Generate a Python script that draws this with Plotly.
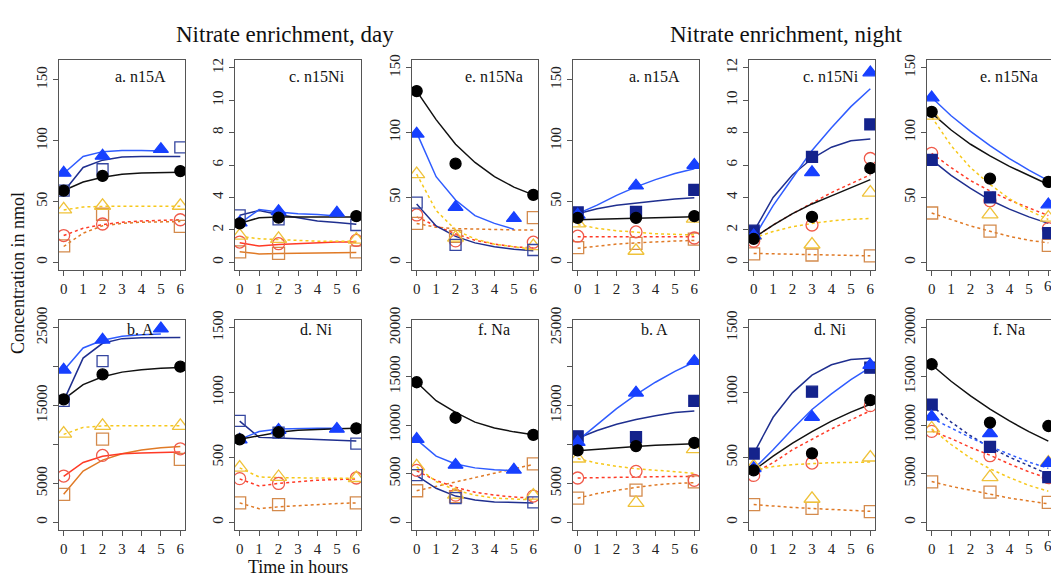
import plotly.graph_objects as go

# ---------------- data ----------------
T_MODEL = [0, 1, 2, 3, 4, 5, 6]
T_DAY_OBS = [0, 2, 6]
T_DAY_TRI = [0, 2, 5]
T_NIGHT_OBS = [0, 3, 6]
X_TICKS = [0, 1, 2, 3, 4, 5, 6]

SERIES = ["orange", "red", "yellow", "navy", "blue", "black"]

# Day, a. n15A
day_n15A_obs = {"black": [59, 71, 75], "blue": [73.5, 87.5, 93], "navy": [59, 76.5, 94.5],
                "yellow": [43.5, 46.5, 46.5], "red": [22, 31.5, 35], "orange": [13.5, 39.5, 29.5]}
day_n15A_mod = {"black": [59, 66, 70, 72.5, 73.5, 74, 74], "blue": [73, 87, 91, 92, 92, 91.5, None],
                "navy": [58, 78, 84, 86.5, 87, 87, 87], "yellow": [43, 45.5, 46, 46, 46, 46, 46],
                "red": [22, 28, 31, 33, 34, 34.5, 35], "orange": [13, 24, 30, 32, 33, 33.5, 33.5]}
# Day, c. n15Ni
day_n15Ni_obs = {"black": [2.4, 2.75, 2.85], "blue": [2.45, 3.15, 3.05], "navy": [2.9, 2.65, 2.3],
                 "yellow": [1.65, 1.45, 1.4], "red": [1.25, 1.15, 1.35], "orange": [0.65, 0.55, 0.65]}
day_n15Ni_mod = {"black": [2.4, 2.75, 2.8, 2.8, 2.8, 2.8, 2.8], "blue": [2.4, 3.25, 3.1, 3.0, 2.95, 2.85, None],
                 "navy": [2.9, 3.2, 2.95, 2.75, 2.55, 2.45, 2.35], "yellow": [1.6, 1.45, 1.4, 1.35, 1.3, 1.3, 1.3],
                 "red": [1.2, 1.0, 1.1, 1.15, 1.2, 1.25, 1.25], "orange": [0.65, 0.52, 0.55, 0.57, 0.58, 0.6, 0.6]}
# Day, e. n15Na
day_n15Na_obs = {"black": [132, 76, 52], "blue": [99, 42.5, 34], "navy": [46, 13.5, 9.5],
                 "yellow": [68, 19, 12.5], "red": [36.5, 16.5, 15.5], "orange": [30, 20, 34.5]}
day_n15Na_mod = {"black": [132, 110, 91, 77, 66, 58, 52], "blue": [100, 66, 48, 36, 30, 25.5, None],
                 "navy": [45, 28, 20, 15, 12, 10, 9], "yellow": [68, 40, 25, 18, 14, 12, 10],
                 "red": [35, 28, 22, 17, 14, 12, 11], "orange": [30, 27, 26, 25.5, 25, 25, 25]}
# Day, b. A
day_A_obs = {"black": [15800, 19000, 20000], "blue": [19600, 23450, 24900], "navy": [15600, 20700, None],
             "yellow": [11400, 12400, 12400], "red": [5950, 8600, 9450], "orange": [3600, 10700, 8100]}
day_A_mod = {"black": [15800, 17700, 18700, 19300, 19600, 19800, 19900],
             "blue": [19500, 22400, 23400, 23900, 24100, 24200, None],
             "navy": [15600, 21100, 23000, 23600, 23700, 23750, 23750],
             "yellow": [11300, 12200, 12400, 12400, 12400, 12400, 12400],
             "red": [5900, 7700, 8500, 8800, 8900, 9000, 9050],
             "orange": [3600, 6600, 8000, 8800, 9300, 9600, 9750]}
# Day, d. Ni
day_Ni_obs = {"black": [640, 695, 725], "blue": [637, 712, 720], "navy": [782, 692, 607],
              "yellow": [422, 350, 342], "red": [337, 300, 342], "orange": [150, 137, 150]}
day_Ni_mod = {"black": [640, 670, 695, 710, 718, 722, 725], "blue": [640, 700, 720, 725, 725, 725, None],
              "navy": [780, 655, 650, 645, 640, 635, 628], "yellow": [420, 350, 345, 342, 340, 340, 340],
              "red": [335, 280, 300, 315, 325, 330, 335], "orange": [150, 105, 120, 130, 140, 145, 150]}
# Day, f. Na
day_Na_obs = {"black": [14400, 10750, 9000], "blue": [8550, 5900, 5400], "navy": [4850, 2500, 2050],
              "yellow": [5750, 2850, 2750], "red": [5350, 2800, 2700], "orange": [3250, 2650, 6000]}
day_Na_mod = {"black": [14400, 12500, 11300, 10300, 9700, 9300, 9000],
              "blue": [8500, 6800, 6000, 5600, 5400, 5300, None],
              "navy": [4800, 3500, 2700, 2300, 2100, 2050, 2000],
              "yellow": [5700, 4200, 3300, 2800, 2500, 2400, 2300],
              "red": [5300, 4300, 3600, 3100, 2800, 2600, 2500],
              "orange": [3250, 3700, 4150, 4600, 5050, 5500, 5950]}
# Night, a. n15A
night_n15A_obs = {"black": [36.5, 36.5, 38], "blue": [39, 63, 80], "navy": [41, 41.5, 59.5],
                  "yellow": [32, 9.5, 36], "red": [21.5, 25, 20], "orange": [12, 15.5, 19]}
night_n15A_mod = {"black": [35, 35.5, 36, 36.5, 37, 37, 37.5], "blue": [40, 47, 55, 62, 68, 73, 77],
                  "navy": [40, 44, 47, 49, 50.5, 52, 53], "yellow": [31, 28, 26, 24.5, 23.5, 23, 22.5],
                  "red": [21, 21, 21, 21, 21, 21, 21], "orange": [11.5, 13.5, 15, 16, 17, 17.5, 18]}
# Night, c. n15Ni
night_n15Ni_obs = {"black": [1.45, 2.8, 5.8], "blue": [1.65, 5.55, 11.7], "navy": [1.95, 6.5, 8.5],
                   "yellow": [1.65, 1.1, 4.3], "red": [1.3, 2.3, 6.4], "orange": [0.52, 0.45, 0.4]}
night_n15Ni_mod = {"black": [1.5, 2.3, 3.0, 3.6, 4.1, 4.6, 5.1], "blue": [1.5, 3.5, 5.2, 6.9, 8.3, 9.6, 10.7],
                   "navy": [1.9, 4.0, 5.4, 6.4, 7.1, 7.5, 7.6], "yellow": [1.5, 1.9, 2.2, 2.4, 2.55, 2.65, 2.7],
                   "red": [1.5, 2.3, 3.0, 3.65, 4.3, 4.85, 5.4], "orange": [0.55, 0.52, 0.5, 0.47, 0.45, 0.42, 0.4]}
# Night, e. n15Na
night_n15Na_obs = {"black": [116, 64.5, 62], "blue": [127, None, 44.5], "navy": [79, 50, 22.5],
                   "yellow": [113, 37, 34.5], "red": [84, 47.5, 26], "orange": [38, 24, 13]}
night_n15Na_mod = {"black": [115, 102, 91, 82, 74, 67, 60], "blue": [127, 113, 101, 90, 80, 71, 63],
                   "navy": [79, 67, 57, 48, 41, 35, 30], "yellow": [112, 90, 73, 60, 49, 40, 33],
                   "red": [84, 73, 63, 55, 48, 42, 36], "orange": [38, 33, 28, 24, 20, 17, 15]}
# Night, b. A
night_A_obs = {"black": [9250, 9800, 10200], "blue": [10300, 16650, 20700], "navy": [11050, 10950, 15600],
               "yellow": [8200, 2500, 9400], "red": [5700, 6550, 5400], "orange": [3100, 4150, 5200]}
night_A_mod = {"black": [9200, 9400, 9600, 9750, 9900, 10000, 10100],
               "blue": [10500, 12600, 14600, 16400, 18000, 19400, 20600],
               "navy": [10800, 11800, 12600, 13200, 13700, 14100, 14300],
               "yellow": [8200, 7600, 7200, 6900, 6700, 6500, 6300],
               "red": [5700, 5750, 5800, 5850, 5900, 5900, 5900],
               "orange": [3100, 3700, 4100, 4500, 4800, 5000, 5100]}
# Night, d. Ni
night_Ni_obs = {"black": [400, 532, 942], "blue": [417, 812, 1212], "navy": [530, 1007, 1192],
                "yellow": [432, 182, 500], "red": [362, 457, 900], "orange": [137, 107, 82]}
night_Ni_mod = {"black": [400, 510, 610, 700, 780, 850, 910], "blue": [410, 560, 720, 870, 990, 1100, 1195],
                "navy": [530, 810, 1000, 1135, 1215, 1255, 1265], "yellow": [400, 430, 445, 455, 460, 462, 465],
                "red": [380, 460, 560, 640, 720, 790, 860], "orange": [137, 125, 115, 107, 98, 90, 85]}
# Night, f. Na
night_Na_obs = {"black": [16250, 10250, 9900], "blue": [10850, 9150, 6100], "navy": [12100, 7750, 4650],
                "yellow": [9650, 4650, 6150], "red": [9350, 6850, 4600], "orange": [4150, 3100, 2050]}
night_Na_mod = {"black": [16200, 14500, 12990, 11630, 10420, 9330, 8350],
                "blue": [10700, 9700, 8700, 7800, 7000, 6200, 5550],
                "navy": [12000, 10300, 8900, 7700, 6700, 5800, 4950],
                "yellow": [9600, 8000, 6600, 5500, 4600, 3800, 3200],
                "red": [9400, 8600, 7700, 6900, 6000, 5200, 4500],
                "orange": [4200, 3700, 3300, 2900, 2500, 2200, 1900]}

# y tick labels
Y_TICKS_N15A = [0, 50, 100, 150]
Y_TICKS_N15NI = [0, 2, 4, 6, 8, 10, 12]
Y_TICKS_N15NA = [0, 50, 100, 150]
Y_TICKS_A = [0, 5000, 10000, 15000, 20000, 25000]
Y_TICKTEXT_A = ["0", "5000", "", "15000", "", "25000"]
Y_TICKS_NI = [0, 500, 1000, 1500]
Y_TICKS_NA = [0, 5000, 10000, 15000, 20000]

# ---------------- style ----------------
W, H = 1051, 580
FONT = "Liberation Serif, Times New Roman, serif"
COL_LEFT = [59, 235, 412, 573, 749, 927]
PANEL_W = 126
ROW_TOP = [48, 314]
PANEL_H = 215
PX_PER_UNIT = PANEL_W / 6.48

MARK = {
    "black": dict(symbol="circle", color="#000000", size=11),
    "blue": dict(symbol="triangle-up", color="#1740ff", size=13),
    "navy_open": dict(symbol="square-open", color="#3546a0", size=11),
    "navy_fill": dict(symbol="square", color="#14238c", size=11),
    "yellow": dict(symbol="triangle-up-open", color="#efc23a", size=14),
    "red": dict(symbol="circle-open", color="#f05a4a", size=12),
    "orange": dict(symbol="square-open", color="#d48a4c", size=12),
}
LINE_COLOR = {"black": "#111111", "blue": "#2f5cff", "navy": "#1f2f8f",
              "yellow": "#f7c81a", "red": "#ff3a26", "orange": "#e07a26"}
DEFAULT_DASH = {"black": "solid", "blue": "solid", "navy": "solid",
                "yellow": "dot", "red": "dot", "orange": "dot"}

panels = [
    (0, 0, "a. n15A", day_n15A_obs, day_n15A_mod, (0, 160), Y_TICKS_N15A, None, True, {}),
    (0, 1, "c. n15Ni", day_n15Ni_obs, day_n15Ni_mod, (0, 12), Y_TICKS_N15NI, None, True,
     {"red": "solid", "orange": "solid"}),
    (0, 2, "e. n15Na", day_n15Na_obs, day_n15Na_mod, (0, 150), Y_TICKS_N15NA, None, True, {}),
    (0, 3, "a. n15A", night_n15A_obs, night_n15A_mod, (0, 160), Y_TICKS_N15A, None, False, {}),
    (0, 4, "c. n15Ni", night_n15Ni_obs, night_n15Ni_mod, (0, 12), Y_TICKS_N15NI, None, False, {}),
    (0, 5, "e. n15Na", night_n15Na_obs, night_n15Na_mod, (0, 150), Y_TICKS_N15NA, None, False, {}),
    (1, 0, "b. A", day_A_obs, day_A_mod, (0, 25000), Y_TICKS_A, Y_TICKTEXT_A, True,
     {"red": "solid", "orange": "solid"}),
    (1, 1, "d. Ni", day_Ni_obs, day_Ni_mod, (0, 1500), Y_TICKS_NI, None, True, {}),
    (1, 2, "f. Na", day_Na_obs, day_Na_mod, (0, 20000), Y_TICKS_NA, None, True, {}),
    (1, 3, "b. A", night_A_obs, night_A_mod, (0, 25000), Y_TICKS_A, Y_TICKTEXT_A, False, {}),
    (1, 4, "d. Ni", night_Ni_obs, night_Ni_mod, (0, 1500), Y_TICKS_NI, None, False, {}),
    (1, 5, "f. Na", night_Na_obs, night_Na_mod, (0, 20000), Y_TICKS_NA, None, False,
     {"blue": "dot", "navy": "dot"}),
]

fig = go.Figure()
layout = {}
annotations = []
TICKFONT = dict(family=FONT, size=15, color="#222222")

for i, (row, col, label, obs, mod, yr, yt, ytt, day, dash_over) in enumerate(panels):
    n = i + 1
    xa = "x" if n == 1 else f"x{n}"
    ya = "y" if n == 1 else f"y{n}"
    left = COL_LEFT[col]
    right = min(left + PANEL_W, W)
    top = ROW_TOP[row]
    bottom = top + PANEL_H
    xmax = -0.24 + (right - left) / PX_PER_UNIT
    pad = (yr[1] - yr[0]) * 0.04

    axis_common = dict(showline=True, linecolor="#555555", linewidth=1, ticks="outside",
                       ticklen=5, tickcolor="#555555", showgrid=False, zeroline=False,
                       tickfont=TICKFONT, fixedrange=True)
    layout["xaxis" if n == 1 else f"xaxis{n}"] = dict(
        axis_common, domain=[left / W, right / W], anchor=ya, range=[-0.24, xmax],
        tickvals=X_TICKS, mirror=True)
    yax = dict(axis_common, domain=[1 - bottom / H, 1 - top / H], anchor=xa,
               range=[yr[0] - pad, yr[1] + pad], tickvals=yt, tickangle=-90,
               tickformat="d", mirror=(col != 5))
    if ytt is not None:
        yax["ticktext"] = ytt
    else:
        yax["ticktext"] = [str(v) for v in yt]
    layout["yaxis" if n == 1 else f"yaxis{n}"] = yax

    for s in SERIES:
        dash = dash_over.get(s, DEFAULT_DASH[s])
        fig.add_trace(go.Scatter(x=T_MODEL, y=mod[s], mode="lines", xaxis=xa, yaxis=ya,
                                 line=dict(color=LINE_COLOR[s], width=1.5, dash=dash),
                                 showlegend=False, hoverinfo="skip", cliponaxis=True))
    for s in SERIES:
        if s == "navy":
            mk = MARK["navy_open"] if day else MARK["navy_fill"]
        else:
            mk = MARK[s]
        tx = (T_DAY_TRI if s == "blue" else T_DAY_OBS) if day else T_NIGHT_OBS
        fig.add_trace(go.Scatter(x=tx, y=obs[s], mode="markers", xaxis=xa, yaxis=ya,
                                 marker=dict(symbol=mk["symbol"], color=mk["color"], size=mk["size"],
                                             line=dict(color=mk["color"], width=1.3)),
                                 showlegend=False, hoverinfo="skip", cliponaxis=True))

    # last column: the "6" tick label sits at the page edge; draw it as text at x=6
    if col == 5:
        annotations.append(dict(text="6", xref=xa, x=6, yref="paper", y=1 - (bottom + 6) / H,
                                xanchor="center", yanchor="top", showarrow=False,
                                font=TICKFONT))

    label_y = top + (17 if row == 0 else 10)
    annotations.append(dict(text=label, xref="paper", yref="paper",
                            x=(left + 0.65 * PANEL_W) / W, y=1 - label_y / H,
                            xanchor="center", yanchor="middle", showarrow=False,
                            font=dict(family=FONT, size=16, color="#111111")))

for txt, xc in [("Nitrate enrichment, day", 285), ("Nitrate enrichment, night", 786)]:
    annotations.append(dict(text=txt, x=xc / W, y=1 - 22 / H, xref="paper", yref="paper",
                            xanchor="center", yanchor="middle", showarrow=False,
                            font=dict(family=FONT, size=23, color="#111111")))
annotations.append(dict(text="Concentration in nmol", xref="paper", yref="paper",
                        x=18 / W, y=1 - 266 / H, xanchor="center", yanchor="middle",
                        textangle=-90, showarrow=False,
                        font=dict(family=FONT, size=18, color="#111111")))
annotations.append(dict(text="Time in hours", xref="paper", yref="paper",
                        x=298 / W, y=1 - 567 / H, xanchor="center", yanchor="middle",
                        showarrow=False, font=dict(family=FONT, size=18, color="#111111")))

fig.update_layout(width=W, height=H, margin=dict(l=0, r=0, t=0, b=0),
                  paper_bgcolor="white", plot_bgcolor="white",
                  annotations=annotations, **layout)
fig.write_html("out.html")
